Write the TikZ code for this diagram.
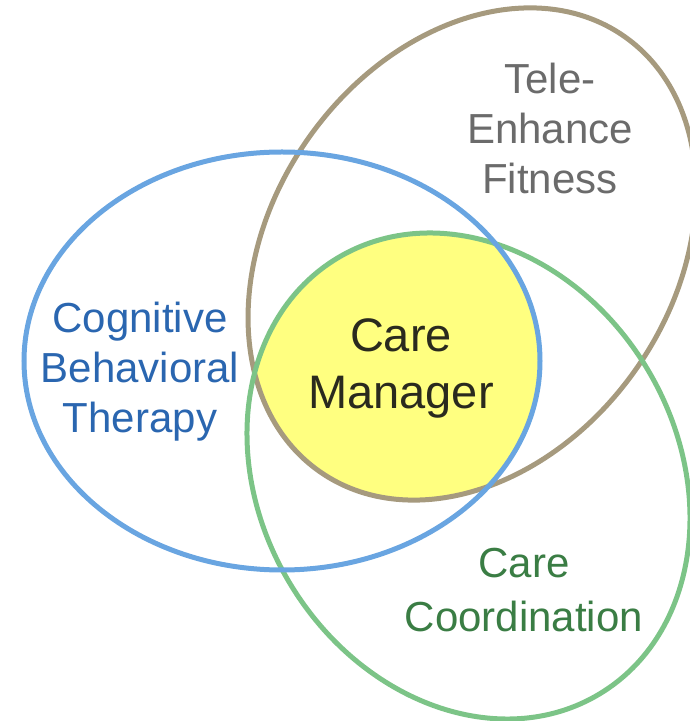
\documentclass[tikz,border=0pt]{standalone}
\usepackage{fontspec}
\setmainfont{Liberation Sans}
\definecolor{blau}{HTML}{69A5E1}
\definecolor{terra}{HTML}{A69A7E}
\definecolor{verd}{HTML}{7CC487}
\definecolor{groc}{HTML}{FFFF80}
\definecolor{textblau}{HTML}{2A66B0}
\definecolor{textgris}{HTML}{6B6B6B}
\definecolor{textverd}{HTML}{3A7D44}
\definecolor{textfosc}{HTML}{2A2A1E}

\begin{document}
\begin{tikzpicture}[x=1pt, y=1pt,
    cercle/.style={line width=5pt},
    lbl/.style={font=\fontsize{42}{50}\selectfont,
        align=center, inner sep=0pt}
    ]
    \useasboundingbox (0,0) rectangle (690,721);
    \coordinate (cbt) at (282,360);
    \coordinate (tef) at (472,467);
    \coordinate (cc) at (468.5,245);
    % nucli comu
    \begin{scope}
        \clip (cbt) ellipse (258 and 209);
        \clip[rotate around={55:(tef)}] (tef) ellipse (265.6 and 200.4);
        \fill[groc, rotate around={-59:(cc)}] (cc) ellipse (254.3 and 208.4);
    \end{scope}
    \draw[cercle, terra, rotate around={55:(tef)}] (tef) ellipse (265.6 and 200.4);
    \draw[cercle, verd, rotate around={-59:(cc)}] (cc) ellipse (254.3 and 208.4);
    \draw[cercle, blau] (cbt) ellipse (258 and 209);
    % etiquetes
    \node[lbl, text=textblau] (terapia) at (140,349) {Cognitive\\Behavioral\\Therapy};
    \node[lbl, text=textgris] (fitness) at (550,593) {Tele-\\Enhance\\Fitness};
    \node[lbl, text=textverd, font=\fontsize{42}{54}\selectfont] (coord) at (524,131) {Care\\Coordination};
    \node[lbl, text=textfosc, font=\fontsize{47}{57}\selectfont] (gestor) at (401,353) {Care\\Manager};
\end{tikzpicture}
\end{document}
